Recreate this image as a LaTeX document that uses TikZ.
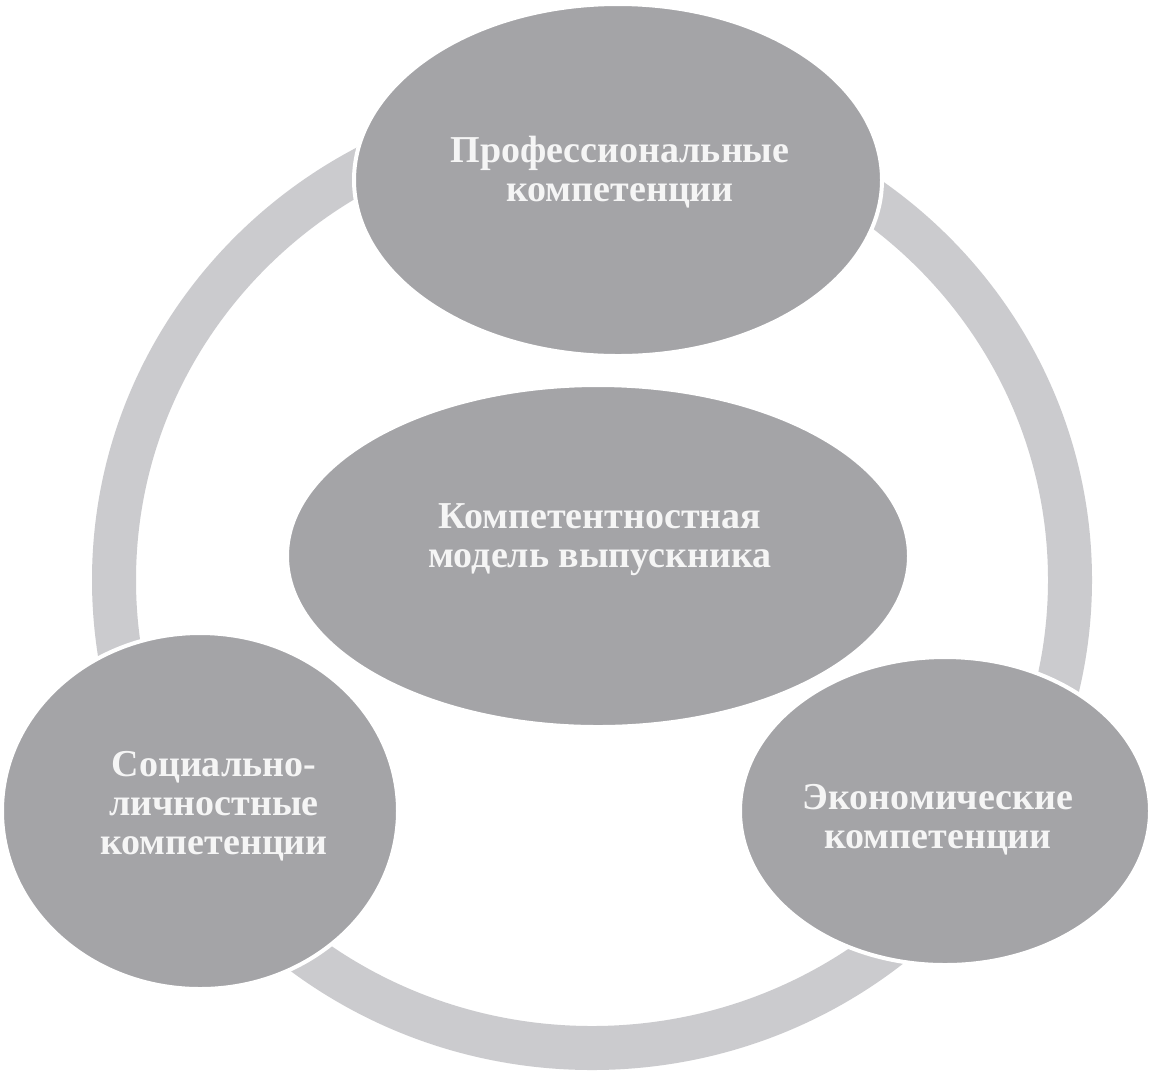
\documentclass[tikz,border=0pt]{standalone}
\usepackage{fontspec}
\setmainfont{Liberation Serif}
\usetikzlibrary{shapes.geometric}
\definecolor{ringgray}{RGB}{203,203,206}
\definecolor{blobgray}{RGB}{164,164,167}
\definecolor{txtwhite}{RGB}{245,245,245}
\tikzset{
  blob/.style={ellipse, fill=blobgray, draw=white, line width=2pt, inner sep=0pt},
  lbl/.style={text=txtwhite, font=\bfseries\fontsize{19}{19.5}\selectfont, align=center, inner sep=0pt}
}
\begin{document}
\begin{tikzpicture}[x=0.5pt,y=-0.5pt]
\useasboundingbox[fill=white] (0,0) rectangle (1150,1073);
% ring
\draw[ringgray, line width=22pt] (592,580) ellipse [x radius=239pt, y radius=234pt];
% ellipses
\node[blob, minimum width=264pt, minimum height=176pt] (top) at (618,180) {};
\node[blob, minimum width=311pt, minimum height=171pt] (mid) at (598,556) {};
\node[blob, minimum width=198pt, minimum height=178pt] (left) at (200,811) {};
\node[blob, minimum width=205pt, minimum height=154pt] (right) at (945,811) {};
% labels
\node[lbl] (ttop) at (620,172) {Профессиональные\\компетенции};
\node[lbl] (tmid) at (600,540) {Компетентностная\\модель выпускника};
\node[lbl] (tleft) at (214,806) {Социально-\\личностные\\компетенции};
\node[lbl] (tright) at (938,820) {Экономические\\компетенции};
\end{tikzpicture}
\end{document}
